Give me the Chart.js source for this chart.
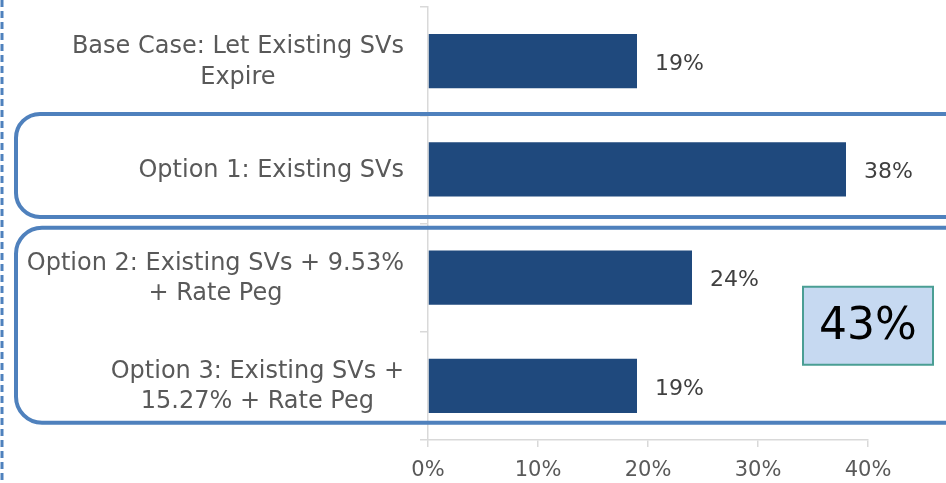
<!DOCTYPE html>
<html lang="en">
<head>
    <meta charset="UTF-8">
    <title>Share of Votes by Option</title>
    <script src="https://cdn.jsdelivr.net/npm/chart.js@4.4.1/dist/chart.umd.min.js"></script>
    <style>
        body {
            margin: 0;
            background-color: #ffffff;
        }
        #votesChart {
            display: block;
        }
    </style>
</head>
<body>
    <canvas id="votesChart" width="946" height="483"></canvas>

    <script>
        // Options and the share of responses for each one
        const optionLabels = [
            ['Base Case: Let Existing SVs', 'Expire'],
            ['Option 1: Existing SVs'],
            ['Option 2: Existing SVs + 9.53%', '+ Rate Peg'],
            ['Option 3: Existing SVs +', '15.27% + Rate Peg']
        ];
        const optionShares = [19, 38, 24, 19];

        // Axis range and tick step (percent)
        const axisMin = 0;
        const axisMax = 40;
        const axisStep = 10;

        // Options 2 and 3 are grouped together in the summary box
        const groupedOptions = [2, 3];

        const FONT = "'DejaVu Sans', sans-serif";
        const BAR_COLOR = '#1f497d';
        const OUTLINE_COLOR = '#4f81bd';

        // Category labels: right-aligned block, lines centred inside it
        const categoryLabelPlugin = {
            id: 'categoryLabels',
            afterDraw(chart) {
                const ctx = chart.ctx;
                const yScale = chart.scales.y;
                const rightEdge = chart.chartArea.left - 24;
                const lineHeight = 30.5;
                ctx.save();
                ctx.font = '24px ' + FONT;
                ctx.fillStyle = '#595959';
                ctx.textAlign = 'center';
                ctx.textBaseline = 'middle';
                optionLabels.forEach((lines, i) => {
                    const widest = Math.max(...lines.map(l => ctx.measureText(l).width));
                    const cx = rightEdge - widest / 2;
                    const cy = yScale.getPixelForValue(i);
                    const top = cy - (lines.length - 1) * lineHeight / 2;
                    lines.forEach((line, j) => {
                        ctx.fillText(line, cx, top + j * lineHeight + 1);
                    });
                });
                ctx.restore();
            }
        };

        // Value labels to the right of each bar
        const valueLabelPlugin = {
            id: 'valueLabels',
            afterDatasetsDraw(chart) {
                const ctx = chart.ctx;
                const meta = chart.getDatasetMeta(0);
                ctx.save();
                ctx.font = '22px ' + FONT;
                ctx.fillStyle = '#404040';
                ctx.textAlign = 'left';
                ctx.textBaseline = 'middle';
                meta.data.forEach((bar, i) => {
                    ctx.fillText(optionShares[i] + '%', bar.x + 18, bar.y + 3);
                });
                ctx.restore();
            }
        };

        function roundedRect(ctx, x, y, w, h, r) {
            ctx.beginPath();
            ctx.moveTo(x + r, y);
            ctx.lineTo(x + w - r, y);
            ctx.arcTo(x + w, y, x + w, y + r, r);
            ctx.lineTo(x + w, y + h - r);
            ctx.arcTo(x + w, y + h, x + w - r, y + h, r);
            ctx.lineTo(x + r, y + h);
            ctx.arcTo(x, y + h, x, y + h - r, r);
            ctx.lineTo(x, y + r);
            ctx.arcTo(x, y, x + r, y, r);
            ctx.closePath();
        }

        // Group outlines, dashed margin line and the grouped total box
        const highlightPlugin = {
            id: 'highlights',
            afterDraw(chart) {
                const ctx = chart.ctx;
                const yScale = chart.scales.y;
                ctx.save();

                // dashed line along the left edge
                ctx.strokeStyle = OUTLINE_COLOR;
                ctx.lineWidth = 3;
                ctx.setLineDash([7, 4]);
                ctx.beginPath();
                ctx.moveTo(2, 0);
                ctx.lineTo(2, chart.height);
                ctx.stroke();
                ctx.setLineDash([]);

                // outline around option 1
                ctx.lineWidth = 4;
                const c1 = yScale.getPixelForValue(1);
                roundedRect(ctx, 16, c1 - 55.5, chart.width + 20, 103, 24);
                ctx.stroke();

                // outline around options 2 and 3
                const mid = (yScale.getPixelForValue(2) + yScale.getPixelForValue(3)) / 2;
                roundedRect(ctx, 16, mid - 104, chart.width + 20, 195, 26);
                ctx.stroke();

                // combined share of the grouped options
                const total = groupedOptions.reduce((sum, i) => sum + optionShares[i], 0);
                const bx = 803, by = mid - 45, bw = 130, bh = 78;
                ctx.fillStyle = '#c6d9f1';
                ctx.fillRect(bx, by, bw, bh);
                ctx.strokeStyle = '#4a9e94';
                ctx.lineWidth = 2;
                ctx.strokeRect(bx, by, bw, bh);
                ctx.fillStyle = '#000000';
                ctx.font = '44px ' + FONT;
                ctx.textAlign = 'center';
                ctx.textBaseline = 'middle';
                ctx.fillText(total + '%', bx + bw / 2, by + bh / 2 + 2);

                ctx.restore();
            }
        };

        const ctx = document.getElementById('votesChart').getContext('2d');
        new Chart(ctx, {
            type: 'bar',
            data: {
                labels: optionLabels,
                datasets: [{
                    data: optionShares,
                    backgroundColor: BAR_COLOR,
                    borderWidth: 0,
                    barPercentage: 0.5,
                    categoryPercentage: 1
                }]
            },
            options: {
                indexAxis: 'y',
                responsive: false,
                animation: false,
                layout: {
                    padding: { top: 7, right: 78, bottom: 0, left: 0 }
                },
                scales: {
                    x: {
                        min: axisMin,
                        max: axisMax,
                        ticks: {
                            stepSize: axisStep,
                            callback: v => v + '%',
                            color: '#595959',
                            font: { family: FONT, size: 21 },
                            padding: 11
                        },
                        grid: {
                            drawOnChartArea: false,
                            tickLength: 7,
                            color: '#d9d9d9',
                            lineWidth: 1.5
                        },
                        border: { color: '#d9d9d9', width: 1.5 },
                        afterFit: scale => { scale.height = 43; }
                    },
                    y: {
                        ticks: { display: false },
                        grid: {
                            drawOnChartArea: false,
                            offset: true,
                            tickLength: 8,
                            color: '#d9d9d9',
                            lineWidth: 1.5
                        },
                        border: { color: '#d9d9d9', width: 1.5 },
                        afterFit: scale => { scale.width = 428; }
                    }
                },
                plugins: {
                    legend: { display: false },
                    tooltip: { enabled: false }
                }
            },
            plugins: [valueLabelPlugin, categoryLabelPlugin, highlightPlugin]
        });
    </script>
</body>
</html>
